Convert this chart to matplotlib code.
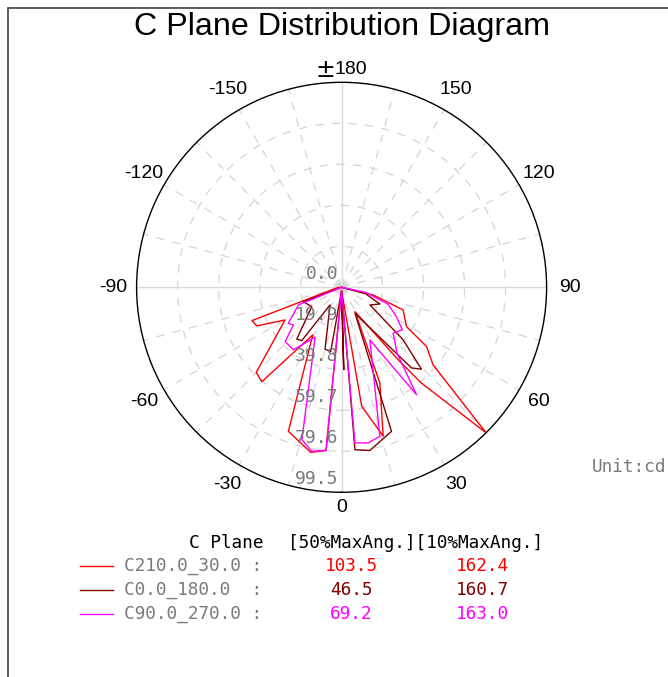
import numpy as np
import matplotlib
matplotlib.use("Agg")
import matplotlib.pyplot as plt
from matplotlib.patches import Rectangle

plt.rcParams['lines.scale_dashes'] = False

# ---- data: C-plane intensity curves (angle in degrees, value in cd) ----
red_theta = [-90, -86, -69.6, -65.5, -60.0, -45.1, -40.2, -31.2, -20.3, -10.6, -5.4, -1.0,
             9.6, 15.6, 21.8, 28.8, 38.1, 39.8, 44.8, 49.7, 55.1, 58.8, 69.8, 76.3, 90]
red_r = [0, 2, 46.4, 45.2, 31.7, 58.5, 60.0, 27.0, 74.5, 81.5, 79.6, 1.5,
         58.6, 75.0, 50.0, 13.5, 45.8, 60.5, 99.5, 58.2, 50.3, 36.8, 31.8, 15.8, 0]

dark_theta = [-90, -69.4, -57.0, -40.8, -36.8, -33.2, -15.0, -9.6, -3.0, 1.5, 3.0, 4.7,
              9.8, 19.1, 27.3, 40.9, 44.3, 49.5, 58.1, 66.5, 75.0, 90]
dark_r = [0, 19.8, 17.3, 33.3, 32.3, 10.2, 31.1, 31.6, 2.0, 40.0, 2.0, 79.1,
          80.4, 74.0, 14.2, 51.8, 55.5, 39.3, 16.2, 20.3, 12.0, 0]

mag_theta = [-90, -67.8, -56.0, -52.0, -46.1, -37.6, -28.0, -14.6, -10.3, -5.5, -1.0,
             4.9, 9.7, 14.4, 28.3, 34.9, 40.0, 48.3, 55.0, 62.0, 70.0, 78.0, 90]
mag_r = [0, 22.6, 31.2, 29.7, 38.0, 38.3, 27.4, 76.4, 80.9, 79.5, 1.5,
         75.8, 76.6, 74.7, 29.0, 63.6, 42.0, 33.5, 36.0, 30.0, 24.0, 12.0, 0]

series_names = ["C210.0_30.0 :", "C0.0_180.0  :", "C90.0_270.0 :"]
series_colors = ["#ff0000", "#800000", "#ff00ff"]
half_max_ang = ["103.5", "46.5", "69.2"]
tenth_max_ang = ["162.4", "160.7", "163.0"]

r_ticks = [0.0, 19.9, 39.8, 59.7, 79.6, 99.5]
theta_ticks = [0, 30, 60, 90, 120, 150, -150, -120, -90, -60, -30]
theta_labels = ["0", "30", "60", "90", "120", "150",
                "-150", "-120", "-90", "-60", "-30"]

W, H = 668, 677
fig = plt.figure(figsize=(W / 100, H / 100), dpi=100)

def fx(px):
    return px / W

def fy(py):
    return 1 - py / H

# page frame (left and top edges)
fig.patches.append(Rectangle((fx(8), -0.2), 2.0, fy(8) + 0.2, transform=fig.transFigure,
                             fill=False, edgecolor="#505050", lw=1.3, clip_on=False))

fig.text(fx(342), fy(27), "C Plane Distribution Diagram", ha="center", va="center",
         fontsize=23.2, family="Liberation Sans", color="black")

cx, cy, rad = 341.6, 287.3, 205.0
ax = fig.add_axes([fx(cx - rad), fy(cy + rad), 2 * rad / W, 2 * rad / H], projection="polar")
ax.set_theta_zero_location("S")
ax.set_theta_direction(1)
rmax = r_ticks[-1]
ax.set_ylim(0, rmax)
ax.set_xticks([])
ax.set_yticks([])
ax.grid(False)
ax.spines["polar"].set_color("black")
ax.spines["polar"].set_linewidth(1.0)

# grid: dashed spokes every 15 deg, solid axes, dashed rings
grid_c = "#d4d4d4"
for a in range(0, 360, 15):
    t = np.deg2rad(a)
    if a % 90 == 0:
        ax.plot([t, t], [0, rmax], color="#dadada", lw=1.0, zorder=1)
    else:
        ax.plot([t, t], [0, rmax], color=grid_c, lw=0.9, ls=(0, (6, 6)), zorder=1)
tt = np.linspace(0, 2 * np.pi, 400)
for rv in r_ticks[1:-1]:
    ax.plot(tt, np.full_like(tt, rv), color=grid_c, lw=0.9, ls=(0, (6, 6)), zorder=1)

# angle labels, just outside the rim
for a, lab in zip(theta_ticks, theta_labels):
    dist = 220 if a == 0 else 228
    ax.text(np.deg2rad(a), rmax * dist / rad, lab, ha="center", va="center",
            fontsize=14, family="Liberation Sans", color="black")
# top label: wide plus-minus sign followed by 180
fig.text(fx(335), fy(70), "\u00b1", ha="right", va="center", fontsize=17,
         family="DejaVu Sans", color="black")
fig.text(fx(335), fy(70), "180", ha="left", va="center", fontsize=14,
         family="Liberation Sans", color="black")

# radial value labels
for rv in r_ticks:
    ax.annotate(f"{rv:.1f}", xy=(0, rv), xytext=(-3, 13), textcoords="offset pixels",
                ha="right", va="center", fontsize=13, family="DejaVu Sans Mono",
                color="#7a7a7a", zorder=5)

# intensity curves
for th, rr, c in [(red_theta, red_r, series_colors[0]),
                  (dark_theta, dark_r, series_colors[1]),
                  (mag_theta, mag_r, series_colors[2])]:
    ax.plot(np.deg2rad(th), rr, color=c, lw=1.0, zorder=3)

fig.text(fx(592), fy(467), "Unit:cd", ha="left", va="center", fontsize=12.8,
         family="DejaVu Sans Mono", color="#7a7a7a")

# summary table
mono = dict(family="DejaVu Sans Mono", fontsize=12.8)
fig.text(fx(226), fy(543), "C Plane", ha="center", va="center", color="black", **mono)
fig.text(fx(288), fy(543), "[50%MaxAng.][10%MaxAng.]", ha="left", va="center",
         color="black", **mono)
row_y = [566, 590, 614]
for y, name, c, v1, v2 in zip(row_y, series_names, series_colors, half_max_ang, tenth_max_ang):
    fig.add_artist(plt.Line2D([fx(80), fx(113)], [fy(y), fy(y)], color=c, lw=1.0,
                              transform=fig.transFigure))
    fig.text(fx(124), fy(y), name, ha="left", va="center", color="#7a7a7a", **mono)
    fig.text(fx(351), fy(y), v1, ha="center", va="center", color=c, **mono)
    fig.text(fx(482), fy(y), v2, ha="center", va="center", color=c, **mono)

fig.savefig("out.png", dpi=100)
